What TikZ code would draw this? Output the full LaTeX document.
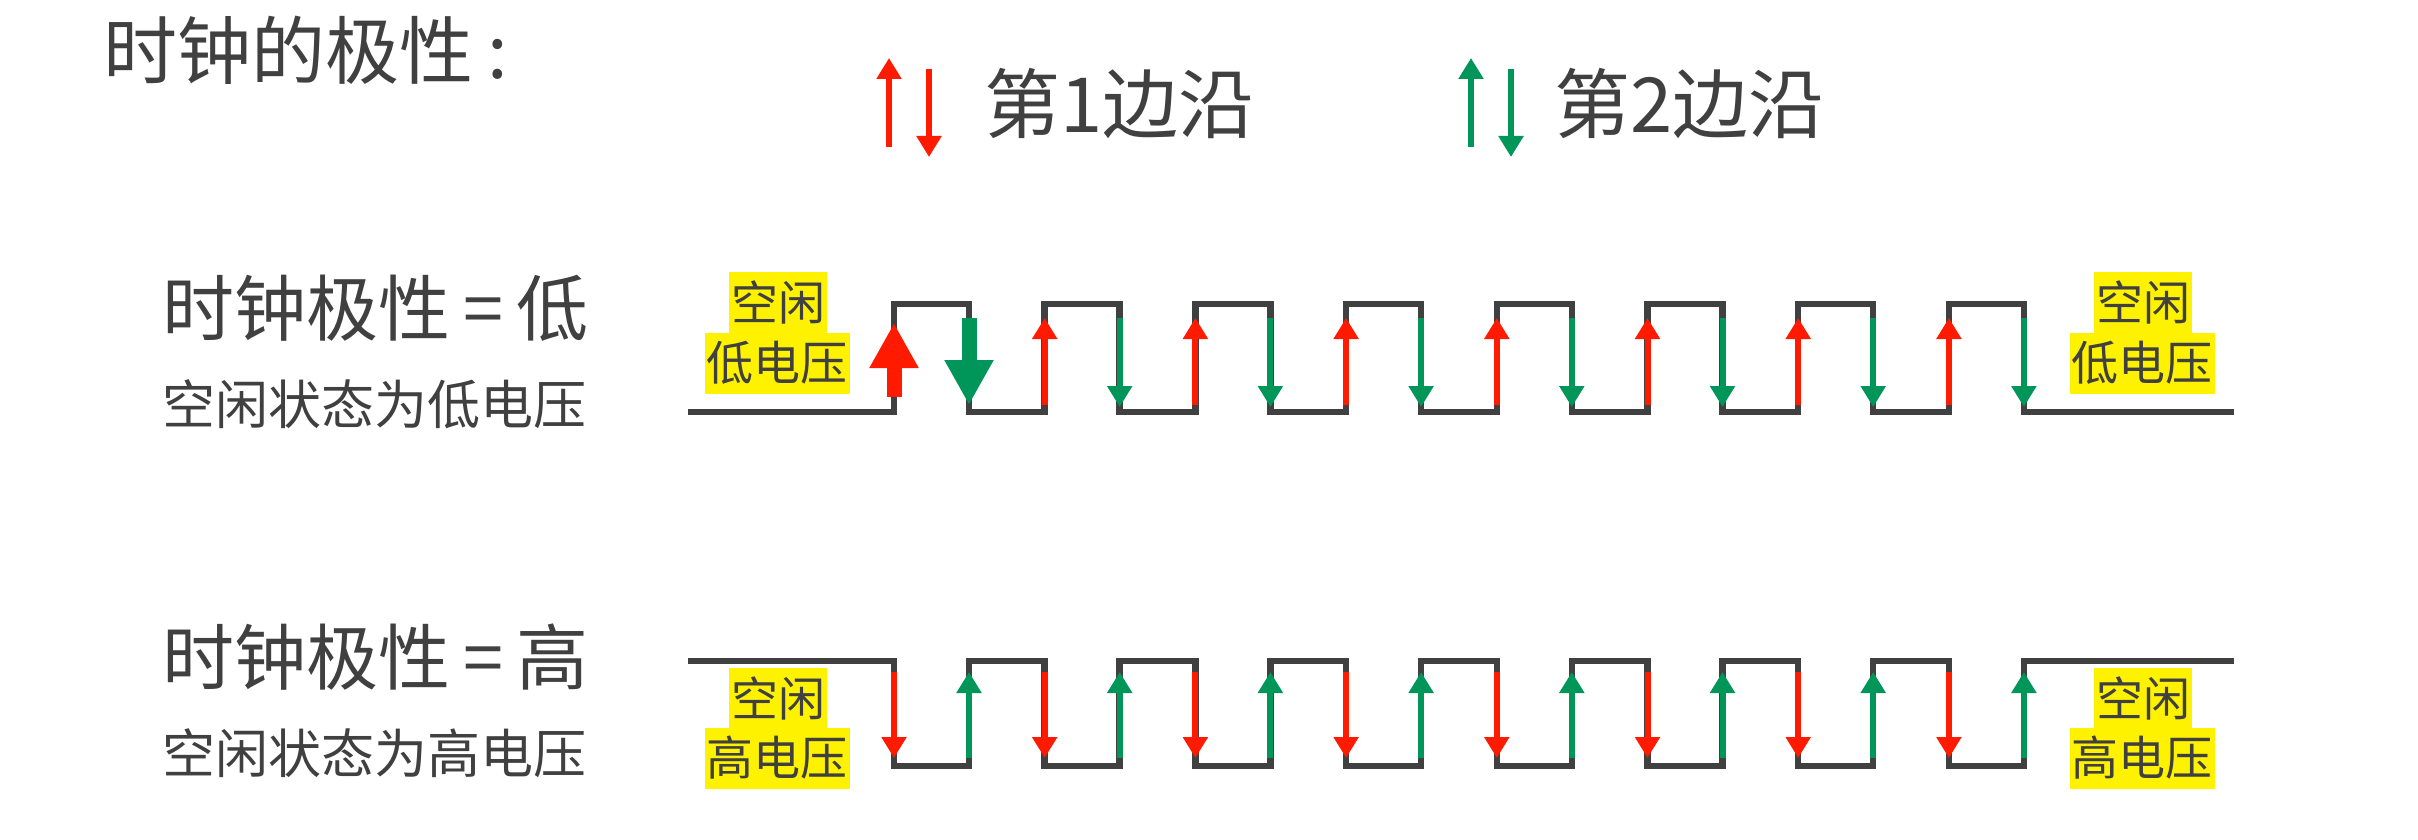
\documentclass[tikz,border=0pt]{standalone}
\usepackage{fontspec}
\newfontfamily\cjk{Noto Sans CJK SC}
\usetikzlibrary{arrows.meta}
\definecolor{ink}{HTML}{404040}
\definecolor{redA}{HTML}{FF1A00}
\definecolor{greenA}{HTML}{00965A}
\definecolor{hl}{HTML}{FFF200}
\begin{document}
\begin{tikzpicture}[x=1pt,y=-1pt,
  wave/.style={draw=ink, line width=6.5pt, line join=miter, line cap=butt},
  smallred/.style={draw=redA, line width=6pt, -{Triangle[length=21pt,width=24pt]}, redA},
  smallgreen/.style={draw=greenA, line width=6pt, -{Triangle[length=21pt,width=24pt]}, greenA},
  bigred/.style={draw=redA, line width=15pt, -{Triangle[length=45pt,width=46pt]}, redA},
  biggreen/.style={draw=greenA, line width=15pt, -{Triangle[length=45pt,width=46pt]}, greenA},
  txt/.style={anchor=west, inner sep=0pt, text=ink},
  idle/.style={fill=hl, text=ink, font=\cjk\fontsize{47}{50}\selectfont, inner xsep=2pt, inner ysep=0pt, minimum height=61pt}
]
\useasboundingbox (0,0) rectangle (2418,840);

% texts
\node[txt, font=\cjk\fontsize{74}{80}\selectfont] (title) at (103,50) {时钟的极性\hspace{14pt}:};
\node[txt, font=\cjk\fontsize{76}{80}\selectfont] (leg1) at (984,104) {第1边沿};
\node[txt, font=\cjk\fontsize{76}{80}\selectfont] (leg2) at (1554,104) {第2边沿};
\node[txt, font=\cjk\fontsize{72}{80}\selectfont] (h1) at (162,308) {时钟极性\hspace{13pt}=\hspace{13pt}低};
\node[txt, font=\cjk\fontsize{53}{60}\selectfont] (s1) at (162,404) {空闲状态为低电压};
\node[txt, font=\cjk\fontsize{72}{80}\selectfont] (h2) at (162,657) {时钟极性\hspace{13pt}=\hspace{13pt}高};
\node[txt, font=\cjk\fontsize{53}{60}\selectfont] (s2) at (162,753) {空闲状态为高电压};

% legend arrows
\draw[smallred] (889,147) -- (889,58);
\draw[smallred] (929,69) -- (929,157);
\draw[smallgreen] (1471,147) -- (1471,58);
\draw[smallgreen] (1511,69) -- (1511,157);

% top waveform (idle low)
\draw[wave] (688,412) foreach \i in {0,...,7} {
  -- ({894+150.7*\i},412) -- ({894+150.7*\i},304) -- ({969+150.7*\i},304) -- ({969+150.7*\i},412) } -- (2234,412);
\draw[bigred] (894,397) -- (894,323);
\draw[biggreen] (969,318) -- (969,405);
\foreach \i in {1,...,7} {
  \draw[smallred] ({894+150.7*\i},405) -- ({894+150.7*\i},318);
  \draw[smallgreen] ({969+150.7*\i},318) -- ({969+150.7*\i},407);
}

% bottom waveform (idle high)
\draw[wave] (688,661) foreach \i in {0,...,7} {
  -- ({894+150.7*\i},661) -- ({894+150.7*\i},766) -- ({969+150.7*\i},766) -- ({969+150.7*\i},661) } -- (2234,661);
\foreach \i in {0,...,7} {
  \draw[smallred] ({894+150.7*\i},672) -- ({894+150.7*\i},758);
  \draw[smallgreen] ({969+150.7*\i},758) -- ({969+150.7*\i},672);
}

% idle labels
\node[idle] (i1a) at (778,302) {空闲};
\node[idle] (i1b) at (777,363) {低电压};
\node[idle] (i2a) at (2143,302) {空闲};
\node[idle] (i2b) at (2142,363) {低电压};
\node[idle] (i3a) at (778,698) {空闲};
\node[idle] (i3b) at (777,758) {高电压};
\node[idle] (i4a) at (2143,698) {空闲};
\node[idle] (i4b) at (2142,758) {高电压};
\end{tikzpicture}
\end{document}
